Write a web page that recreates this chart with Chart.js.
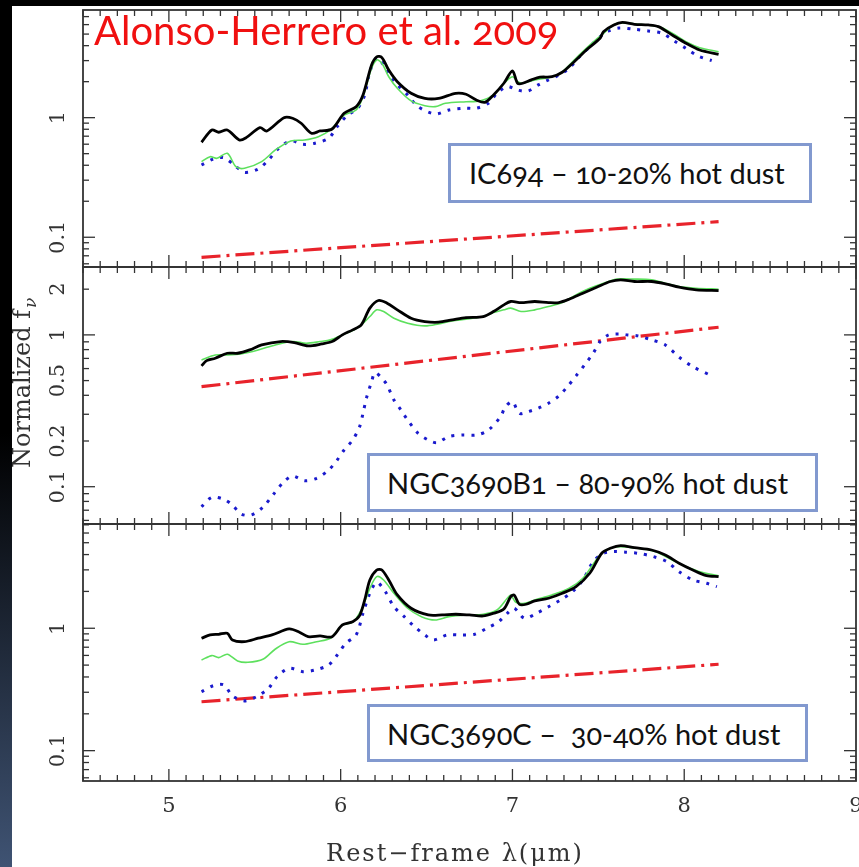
<!DOCTYPE html>
<html>
<head>
<meta charset="utf-8">
<script src="https://cdn.jsdelivr.net/npm/chart.js@4.4.0/dist/chart.umd.min.js"></script>
<style>
  html, body { margin: 0; padding: 0; background: #fff; }
  #wrap { position: relative; width: 859px; height: 867px; overflow: hidden; }
  #spectra { position: absolute; left: 0; top: 0; }
  .note {
    position: absolute; box-sizing: border-box;
    border: 3px solid #8299cf; background: #fff;
    font-family: Lato, "Open Sans", sans-serif; font-size: 29px; color: #111;
    font-variant-numeric: oldstyle-nums; font-feature-settings: "onum";
    white-space: pre; line-height: 1; padding-top: 12px;
  }
  #ref {
    position: absolute; left: 94px; top: 10px; color: #f01010;
    font-family: Lato, "Open Sans", sans-serif; font-size: 40px; line-height: 1;
    font-variant-numeric: oldstyle-nums; font-feature-settings: "onum";
    white-space: pre;
  }
</style>
</head>
<body>
<div id="wrap">
  <canvas id="spectra" width="859" height="867"></canvas>
  <div id="ref">Alonso-Herrero et al. 2009</div>
  <div class="note" style="left:448px;top:143px;width:364px;height:60px;padding-left:18px;">IC694 – 10-20% hot dust</div>
  <div class="note" style="left:367px;top:453px;width:451px;height:59px;padding-left:17px;">NGC3690B1 – 80-90% hot dust</div>
  <div class="note" style="left:367px;top:704px;width:441px;height:58px;padding-left:17px;">NGC3690C –  30-40% hot dust</div>
</div>
<script>
// rest-frame wavelength (micron) vs normalized f_nu, one set per panel

// IC694
const ic694Total = [[5.19,0.623],[5.25,0.789],[5.29,0.755],[5.34,0.789],[5.41,0.651],[5.45,0.681],[5.53,0.825],[5.57,0.774],[5.67,1.0],[5.72,0.989],[5.77,0.898],[5.83,0.741],[5.88,0.774],[5.95,0.804],[6.02,1.089],[6.09,1.236],[6.13,1.549],[6.18,2.76],[6.21,3.23],[6.24,3.18],[6.28,2.50],[6.33,2.0],[6.41,1.60],[6.49,1.45],[6.57,1.45],[6.67,1.60],[6.73,1.57],[6.79,1.406],[6.84,1.344],[6.89,1.549],[6.95,1.94],[7.00,2.46],[7.03,1.94],[7.06,1.94],[7.11,2.07],[7.16,2.18],[7.23,2.20],[7.29,2.40],[7.35,2.85],[7.43,3.68],[7.51,4.61],[7.53,5.24],[7.59,5.96],[7.64,6.27],[7.71,6.04],[7.79,5.96],[7.85,5.77],[7.93,4.91],[8.01,4.19],[8.09,3.68],[8.20,3.39]];
const ic694Fit = [[5.19,0.429],[5.24,0.472],[5.28,0.457],[5.34,0.504],[5.39,0.389],[5.44,0.377],[5.54,0.429],[5.62,0.537],[5.71,0.639],[5.79,0.651],[5.87,0.694],[5.94,0.789],[6.02,1.05],[6.09,1.16],[6.13,1.50],[6.18,2.59],[6.21,3.04],[6.24,2.85],[6.28,2.20],[6.33,1.76],[6.41,1.38],[6.49,1.26],[6.55,1.236],[6.61,1.32],[6.73,1.36],[6.81,1.38],[6.89,1.549],[6.95,1.94],[7.00,2.20],[7.03,2.0],[7.06,1.94],[7.13,2.07],[7.23,2.20],[7.29,2.42],[7.37,3.14],[7.45,4.05],[7.53,5.08],[7.61,6.15],[7.73,6.04],[7.85,5.77],[7.93,5.08],[8.01,4.32],[8.09,3.85],[8.20,3.56]];
const ic694Starburst = [[5.19,0.402],[5.26,0.452],[5.32,0.463],[5.38,0.402],[5.44,0.349],[5.52,0.372],[5.58,0.443],[5.64,0.555],[5.71,0.639],[5.78,0.599],[5.85,0.611],[5.93,0.673],[5.98,0.841],[6.04,1.05],[6.10,1.20],[6.14,1.549],[6.17,2.42],[6.21,3.18],[6.25,2.76],[6.29,2.20],[6.33,1.88],[6.39,1.549],[6.45,1.236],[6.55,1.074],[6.63,1.16],[6.72,1.20],[6.79,1.20],[6.86,1.32],[6.91,1.60],[6.97,1.82],[7.03,1.70],[7.09,1.67],[7.15,1.88],[7.21,2.07],[7.27,2.27],[7.33,2.59],[7.39,3.23],[7.45,3.92],[7.51,4.75],[7.56,5.31],[7.62,5.62],[7.71,5.48],[7.79,5.31],[7.87,5.08],[7.94,4.40],[8.01,3.80],[8.08,3.28],[8.16,3.0]];
const ic694HotDust = [[5.19,0.068],[8.20,0.135]];

// NGC3690B1
const b1Total = [[5.19,0.625],[5.22,0.677],[5.27,0.702],[5.34,0.757],[5.40,0.757],[5.47,0.796],[5.54,0.859],[5.65,0.904],[5.73,0.890],[5.81,0.846],[5.89,0.872],[5.95,0.904],[6.01,1.0],[6.07,1.079],[6.12,1.164],[6.17,1.50],[6.22,1.684],[6.27,1.618],[6.33,1.462],[6.41,1.288],[6.49,1.224],[6.57,1.212],[6.65,1.256],[6.73,1.30],[6.83,1.321],[6.89,1.425],[6.95,1.577],[6.99,1.659],[7.05,1.633],[7.13,1.659],[7.21,1.633],[7.27,1.633],[7.33,1.718],[7.41,1.883],[7.49,2.06],[7.57,2.247],[7.63,2.305],[7.71,2.247],[7.81,2.247],[7.89,2.168],[7.97,2.06],[8.07,1.98],[8.20,1.959]];
const b1Fit = [[5.19,0.684],[5.27,0.738],[5.34,0.738],[5.42,0.750],[5.52,0.796],[5.62,0.859],[5.72,0.904],[5.80,0.881],[5.88,0.904],[5.94,0.927],[6.01,1.0],[6.07,1.068],[6.12,1.164],[6.17,1.321],[6.21,1.462],[6.25,1.425],[6.31,1.288],[6.39,1.194],[6.49,1.146],[6.57,1.182],[6.65,1.237],[6.73,1.268],[6.83,1.321],[6.89,1.403],[6.95,1.462],[6.99,1.50],[7.05,1.425],[7.13,1.462],[7.21,1.538],[7.29,1.633],[7.37,1.835],[7.45,2.03],[7.53,2.19],[7.61,2.33],[7.71,2.33],[7.81,2.305],[7.89,2.19],[7.97,2.08],[8.07,2.03],[8.20,2.0]];
const b1Starburst = [[5.19,0.0738],[5.25,0.0851],[5.32,0.0826],[5.37,0.0757],[5.42,0.0661],[5.48,0.0651],[5.55,0.0738],[5.61,0.0895],[5.67,0.108],[5.72,0.1176],[5.79,0.1095],[5.86,0.1136],[5.93,0.1288],[5.98,0.150],[6.02,0.1746],[6.07,0.203],[6.11,0.248],[6.13,0.304],[6.15,0.383],[6.18,0.492],[6.20,0.565],[6.24,0.518],[6.27,0.468],[6.31,0.373],[6.35,0.321],[6.39,0.275],[6.45,0.225],[6.51,0.203],[6.56,0.195],[6.63,0.214],[6.71,0.219],[6.79,0.219],[6.86,0.236],[6.93,0.289],[6.96,0.337],[7.00,0.363],[7.04,0.304],[7.09,0.312],[7.15,0.329],[7.21,0.355],[7.27,0.396],[7.32,0.456],[7.37,0.537],[7.42,0.634],[7.47,0.757],[7.51,0.904],[7.56,1.0],[7.62,1.015],[7.67,1.0],[7.73,0.985],[7.81,0.927],[7.89,0.859],[7.97,0.713],[8.05,0.618],[8.16,0.537]];
const b1HotDust = [[5.19,0.456],[8.20,1.123]];

// NGC3690C
const cTotal = [[5.19,0.829],[5.24,0.882],[5.29,0.893],[5.34,0.910],[5.37,0.802],[5.44,0.777],[5.52,0.829],[5.60,0.882],[5.70,0.987],[5.76,0.928],[5.81,0.854],[5.88,0.865],[5.95,0.854],[6.01,1.064],[6.07,1.132],[6.11,1.267],[6.14,1.703],[6.17,2.48],[6.21,2.995],[6.24,2.995],[6.28,2.48],[6.33,1.871],[6.41,1.457],[6.51,1.284],[6.59,1.284],[6.67,1.301],[6.75,1.284],[6.83,1.26],[6.89,1.326],[6.95,1.438],[6.99,1.812],[7.01,1.871],[7.04,1.571],[7.08,1.571],[7.13,1.671],[7.21,1.758],[7.29,1.931],[7.37,2.188],[7.45,2.814],[7.52,4.10],[7.57,4.50],[7.63,4.73],[7.71,4.55],[7.81,4.36],[7.89,3.97],[7.97,3.40],[8.05,2.995],[8.13,2.69],[8.20,2.64]];
const cFit = [[5.19,0.551],[5.25,0.598],[5.29,0.576],[5.34,0.613],[5.40,0.541],[5.46,0.527],[5.55,0.561],[5.62,0.677],[5.70,0.777],[5.78,0.740],[5.86,0.777],[5.94,0.829],[6.01,1.064],[6.07,1.12],[6.12,1.411],[6.17,2.12],[6.21,2.64],[6.25,2.48],[6.31,1.93],[6.39,1.457],[6.47,1.244],[6.55,1.169],[6.63,1.244],[6.73,1.284],[6.83,1.301],[6.91,1.411],[6.97,1.758],[6.99,1.871],[7.02,1.631],[7.07,1.60],[7.13,1.703],[7.23,1.871],[7.33,2.12],[7.41,2.56],[7.48,3.50],[7.53,4.23],[7.61,4.64],[7.73,4.50],[7.83,4.23],[7.93,3.61],[8.01,3.19],[8.09,2.90],[8.20,2.69]];
const cStarburst = [[5.19,0.303],[5.26,0.340],[5.32,0.344],[5.37,0.281],[5.44,0.255],[5.51,0.276],[5.58,0.323],[5.63,0.402],[5.70,0.471],[5.78,0.442],[5.85,0.456],[5.93,0.501],[5.98,0.605],[6.03,0.754],[6.09,0.882],[6.13,1.326],[6.17,1.93],[6.21,2.376],[6.26,1.99],[6.31,1.50],[6.37,1.244],[6.43,1.03],[6.49,0.882],[6.54,0.802],[6.62,0.882],[6.70,0.882],[6.78,0.893],[6.85,1.0],[6.92,1.132],[6.97,1.326],[7.01,1.457],[7.07,1.207],[7.14,1.326],[7.21,1.50],[7.28,1.703],[7.35,1.99],[7.41,2.48],[7.47,3.50],[7.53,4.10],[7.59,4.23],[7.66,4.18],[7.73,4.10],[7.82,3.85],[7.90,3.50],[7.97,2.90],[8.05,2.48],[8.13,2.33],[8.19,2.188]];
const cHotDust = [[5.19,0.251],[8.20,0.508]];

// axis ranges and labels
const xTickLabels = [5, 6, 7, 8, 9];
const panelAxes = ['y1', 'y2', 'y3'];
const panelMin = [0.0564, 0.0568, 0.0565];
const panelMax = [7.95, 2.80, 7.11];
const panelTickLabels = [['1', '0.1'], ['2', '1', '0.5', '0.2', '0.1'], ['1', '0.1']];

const TICK_FONT = '21px "DejaVu Serif", serif';
const TITLE_FONT = '24px "DejaVu Serif", serif';

function curve(pairs, axis, style) {
    return Object.assign({
        data: pairs.map(p => ({ x: p[0], y: p[1] })),
        yAxisID: axis,
        pointRadius: 0,
        fill: false
    }, style);
}

const totalStyle = { borderColor: '#000', borderWidth: 2.8, tension: 0.3, order: 0 };
const fitStyle = { borderColor: '#5de05d', borderWidth: 1.6, tension: 0.3, order: 1 };
const starburstStyle = { borderColor: '#1a1acd', borderWidth: 3, borderDash: [3, 7], tension: 0.3, order: 2 };
const hotDustStyle = { borderColor: '#e8232b', borderWidth: 3.2, borderDash: [19, 6, 3, 6], order: 3 };

// frame, inward ticks, tick labels and axis titles
const panelFrame = {
    id: 'panelFrame',
    beforeDraw(chart) {
        const { ctx, width, height } = chart;
        ctx.save();
        ctx.fillStyle = '#fff';
        ctx.fillRect(0, 0, width, height);
        const g = ctx.createLinearGradient(0, 0, 0, height);
        g.addColorStop(0, '#000');
        g.addColorStop(0.5, '#000');
        g.addColorStop(1, '#3f5373');
        ctx.fillStyle = g;
        ctx.fillRect(0, 0, 12, height);
        ctx.fillStyle = '#000';
        ctx.fillRect(0, 0, width, 6);
        ctx.restore();
    },
    afterDraw(chart) {
        const { ctx } = chart;
        const x = chart.scales.x;
        ctx.save();
        ctx.strokeStyle = '#333';
        ctx.fillStyle = '#333';

        const seg = (x0, y0, x1, y1) => {
            ctx.beginPath();
            ctx.moveTo(x0, y0);
            ctx.lineTo(x1, y1);
            ctx.stroke();
        };

        panelAxes.forEach((id, i) => {
            const y = chart.scales[id];
            const top = y.top, bottom = y.bottom, left = x.left, right = x.right;

            ctx.lineWidth = 1.3;
            for (let k = Math.ceil(x.min * 10); k <= x.max * 10; k++) {
                const px = x.getPixelForValue(k / 10);
                const len = k % 10 === 0 ? 12 : 6;
                seg(px, bottom, px, bottom - len);
                seg(px, top, px, top + len);
            }
            for (let d = -2; d <= 1; d++) {
                for (let m = 1; m <= 9; m++) {
                    const v = m * Math.pow(10, d);
                    if (v < y.min || v > y.max) continue;
                    const py = y.getPixelForValue(v);
                    const len = m === 1 ? 12 : 6;
                    seg(left, py, left + len, py);
                    seg(right, py, right - len, py);
                }
            }

            ctx.lineWidth = 1.8;
            ctx.strokeRect(left, top, right - left, bottom - top);

            ctx.font = TICK_FONT;
            ctx.textAlign = 'center';
            ctx.textBaseline = 'middle';
            panelTickLabels[i].forEach(lbl => {
                const py = y.getPixelForValue(parseFloat(lbl));
                ctx.save();
                ctx.translate(left - 24, py);
                ctx.rotate(-Math.PI / 2);
                ctx.fillText(lbl, 0, 0);
                ctx.restore();
            });
        });

        const last = chart.scales[panelAxes[panelAxes.length - 1]];
        ctx.font = TICK_FONT;
        ctx.textAlign = 'center';
        ctx.textBaseline = 'alphabetic';
        xTickLabels.forEach(v => {
            ctx.fillText(String(v), x.getPixelForValue(v), last.bottom + 31);
        });

        // x title
        ctx.font = TITLE_FONT;
        ctx.letterSpacing = '2px';
        ctx.fillText('Rest\u2212frame \u03bb(\u03bcm)', 455, 861);
        ctx.letterSpacing = '0px';

        // y title with nu subscript
        ctx.save();
        ctx.translate(30, 383);
        ctx.rotate(-Math.PI / 2);
        ctx.textAlign = 'left';
        ctx.font = TITLE_FONT;
        const main = 'Normalized f';
        const w = ctx.measureText(main).width;
        ctx.fillText(main, -w / 2 - 6, 0);
        ctx.font = 'italic 17px "DejaVu Serif", serif';
        ctx.fillText('\u03bd', w / 2 - 4, 6);
        ctx.restore();

        ctx.restore();
    }
};

const yScales = {};
panelAxes.forEach((id, i) => {
    yScales[id] = {
        type: 'logarithmic',
        position: 'right',
        stack: 'panels',
        stackWeight: 1,
        min: panelMin[i],
        max: panelMax[i],
        display: false
    };
});

new Chart(document.getElementById('spectra'), {
    type: 'line',
    data: {
        datasets: [
            curve(ic694Total, 'y1', totalStyle),
            curve(ic694Fit, 'y1', fitStyle),
            curve(ic694Starburst, 'y1', starburstStyle),
            curve(ic694HotDust, 'y1', hotDustStyle),
            curve(b1Total, 'y2', totalStyle),
            curve(b1Fit, 'y2', fitStyle),
            curve(b1Starburst, 'y2', starburstStyle),
            curve(b1HotDust, 'y2', hotDustStyle),
            curve(cTotal, 'y3', totalStyle),
            curve(cFit, 'y3', fitStyle),
            curve(cStarburst, 'y3', starburstStyle),
            curve(cHotDust, 'y3', hotDustStyle)
        ]
    },
    options: {
        responsive: false,
        animation: false,
        layout: { padding: { left: 83, top: 10, right: 3, bottom: 86 } },
        plugins: { legend: { display: false }, tooltip: { enabled: false } },
        scales: Object.assign({
            x: { type: 'linear', min: 4.5, max: 9, display: false }
        }, yScales)
    },
    plugins: [panelFrame]
});
</script>
</body>
</html>
